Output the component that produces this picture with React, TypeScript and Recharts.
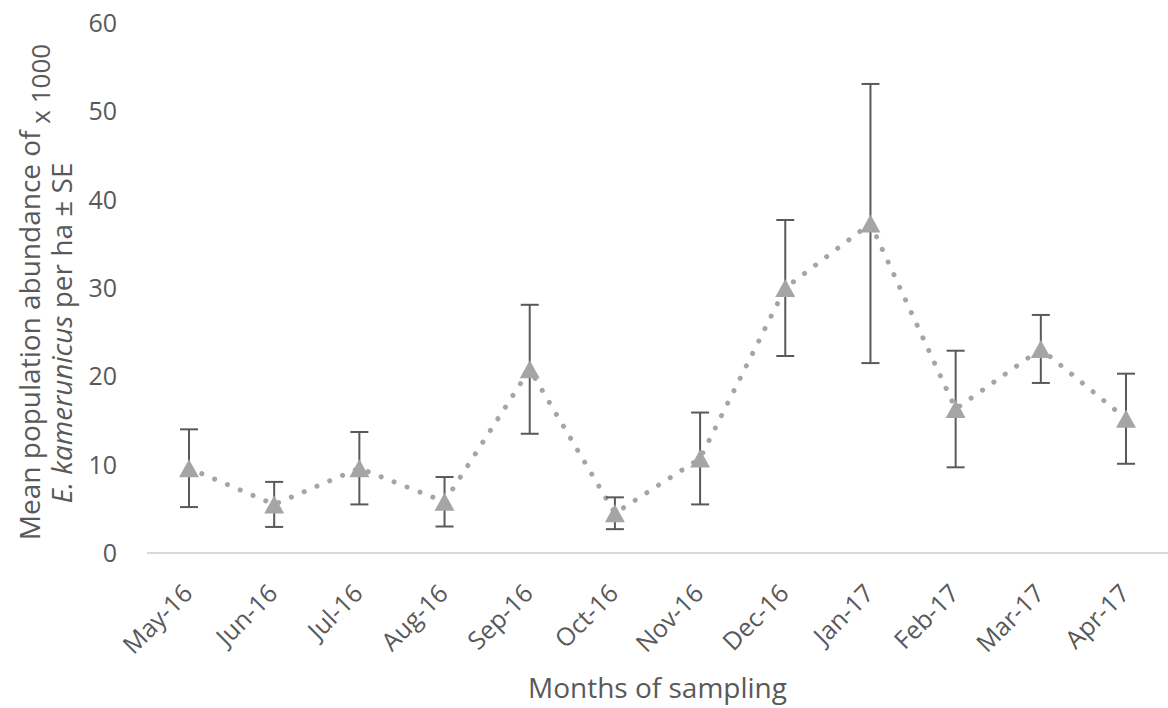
import React from "react";
import { LineChart, Line, XAxis, YAxis, ErrorBar } from "recharts";

const months = ["May-16", "Jun-16", "Jul-16", "Aug-16", "Sep-16", "Oct-16", "Nov-16", "Dec-16", "Jan-17", "Feb-17", "Mar-17", "Apr-17"];
const meanAbundance = [9.6, 5.5, 9.6, 5.8, 20.8, 4.5, 10.7, 30.0, 37.3, 16.3, 23.1, 15.2];
const standardError = [4.4, 2.55, 4.1, 2.8, 7.3, 1.8, 5.2, 7.7, 15.8, 6.6, 3.85, 5.1];
const yTicks = [0, 10, 20, 30, 40, 50, 60];

const data = months.map((m, i) => ({ month: m, mean: meanAbundance[i], se: standardError[i] }));

const TEXT = "#595959";
const FONT = "'Open Sans', sans-serif";

const Triangle = (props: any) => {
  const { cx, cy } = props;
  if (cx == null || cy == null) return null;
  const h = 18;
  const w = 20;
  return (
    <path
      d={`M${cx},${cy - h / 2} L${cx + w / 2},${cy + h / 2} L${cx - w / 2},${cy + h / 2} Z`}
      fill="#A5A5A5"
      stroke="none"
    />
  );
};

const XTick = (props: any) => {
  const { x, y, payload } = props;
  const ax = x + 5;
  const ay = y + 34;
  return (
    <text
      x={ax}
      y={ay}
      transform={`rotate(-45, ${ax}, ${ay})`}
      textAnchor="end"
      fill={TEXT}
      fontSize={25}
      fontFamily={FONT}
    >
      {payload.value}
    </text>
  );
};

const XLabel = (props: any) => {
  const vb = props.viewBox || {};
  return (
    <text
      x={vb.x + vb.width / 2}
      y={vb.y + 145}
      textAnchor="middle"
      fill={TEXT}
      fontSize={28}
      fontFamily={FONT}
    >
      Months of sampling
    </text>
  );
};

const YLabel = () => (
  <g>
    <text
      transform="translate(40, 292) rotate(-90)"
      textAnchor="middle"
      fill={TEXT}
      fontSize={28}
      fontFamily={FONT}
    >
      Mean population abundance of
      <tspan dy={10} fontSize={26}>{" x 1000"}</tspan>
    </text>
    <text
      transform="translate(72, 333) rotate(-90)"
      textAnchor="middle"
      fill={TEXT}
      fontSize={28}
      fontFamily={FONT}
    >
      <tspan fontStyle="italic">E. kamerunicus</tspan>
      {" per ha ± SE"}
    </text>
  </g>
);

export default function App() {
  return (
    <div style={{ position: "absolute", left: 0, top: 0, width: 1168, height: 708, background: "#fff", fontFamily: FONT }}>
      <LineChart width={1168} height={708} data={data} margin={{ top: 23, right: 0, left: 0, bottom: 0 }}>
        <XAxis
          dataKey="month"
          height={155}
          padding={{ left: 42, right: 42 }}
          axisLine={{ stroke: "#D9D9D9", strokeWidth: 2 }}
          tickLine={false}
          tick={<XTick />}
          interval={0}
          label={<XLabel />}
        />
        <YAxis
          width={147}
          domain={[0, 60]}
          ticks={yTicks}
          axisLine={false}
          tickLine={false}
          tickSize={6}
          tickMargin={24}
          tick={{ fill: TEXT, fontSize: 25, fontFamily: FONT }}
          label={<YLabel />}
        />
        <Line
          type="linear"
          dataKey="mean"
          stroke="#A5A5A5"
          strokeWidth={5}
          strokeDasharray="0.1 13.8"
          strokeLinecap="round"
          dot={<Triangle />}
          activeDot={false}
          isAnimationActive={false}
        />
        <Line
          type="linear"
          dataKey="mean"
          stroke="none"
          dot={false}
          activeDot={false}
          isAnimationActive={false}
        >
          <ErrorBar dataKey="se" direction="y" width={9} stroke="#595959" strokeWidth={2} />
        </Line>
      </LineChart>
    </div>
  );
}
